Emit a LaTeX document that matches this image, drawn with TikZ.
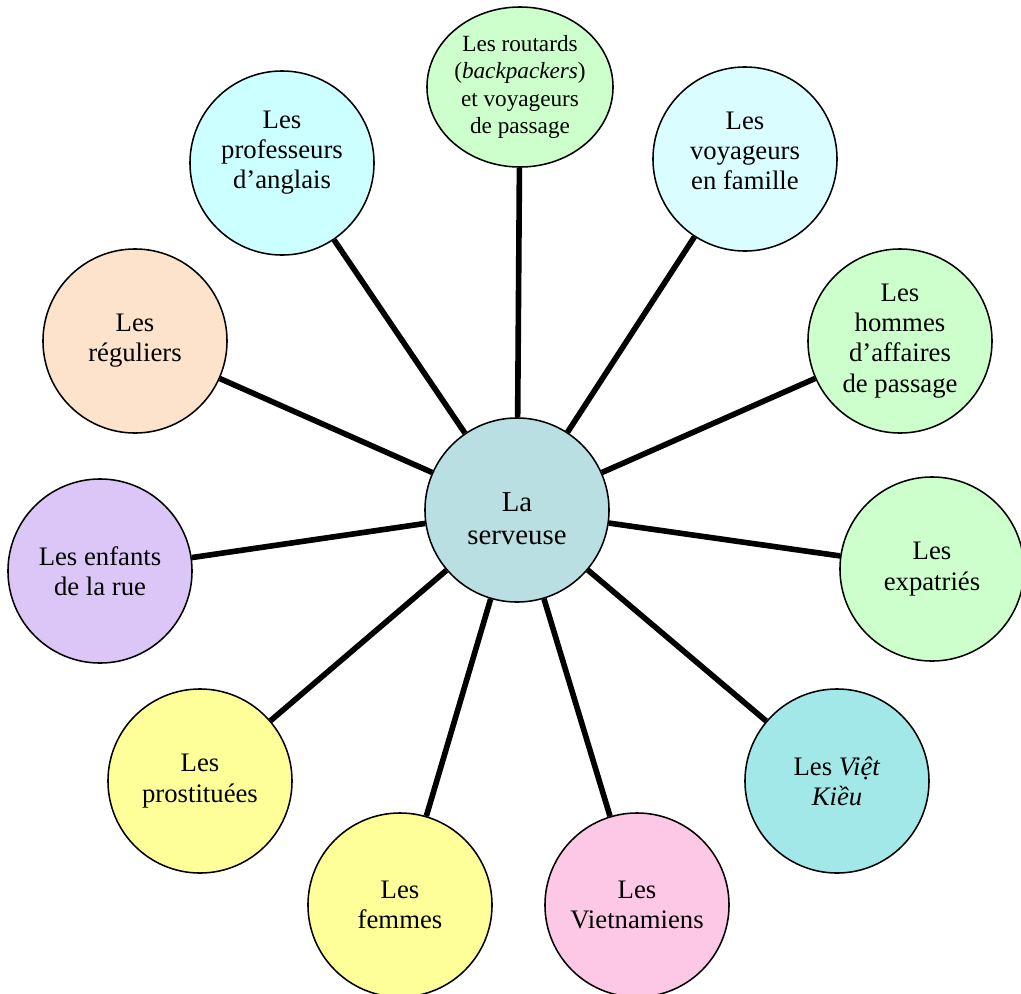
\documentclass[tikz,border=0pt]{standalone}
\usepackage{fontspec}
\setmainfont{Liberation Serif}
\usetikzlibrary{shapes.geometric}

\definecolor{centreblue}{HTML}{B9DFE2}
\definecolor{palegreen}{HTML}{CCFFCC}
\definecolor{palecyan}{HTML}{CCFFFF}
\definecolor{lightcyan}{HTML}{DAFDFF}
\definecolor{peach}{HTML}{FDE3CC}
\definecolor{lavender}{HTML}{DCC6F7}
\definecolor{paleyellow}{HTML}{FFFF99}
\definecolor{pink}{HTML}{FDC8E6}
\definecolor{turquoise}{HTML}{A2E8E8}

\begin{document}
\begin{tikzpicture}[x=0.025cm,y=-0.025cm]
\tikzstyle{group}=[circle, draw=black, line width=1.1pt, minimum size=4.6cm, inner sep=0pt, align=center, font=\fontsize{19}{21.5}\selectfont]
\tikzstyle{spoke}=[line width=4pt]
\useasboundingbox (0,0) rectangle (1021,994);

% Centre
\node[group, fill=centreblue, font=\fontsize{20.5}{23.5}\selectfont] (serveuse) at (517,510) {\mbox{}\\[2pt]La\\serveuse};

% Upper half
\node[group, ellipse, minimum width=4.65cm, minimum height=4cm, fill=palegreen, font=\fontsize{16.5}{19.4}\selectfont] (routards) at (520,87) {Les routards\\(\textit{backpackers})\\et voyageurs\\de passage};
\node[group, fill=palecyan] (professeurs) at (282,163) {Les\\professeurs\\d’anglais\\[-3pt]\mbox{}};
\node[group, fill=lightcyan] (famille) at (745,159) {Les\\voyageurs\\en famille\\[-10pt]\mbox{}};
\node[group, fill=peach] (reguliers) at (135,341) {Les\\réguliers};
\node[group, fill=palegreen] (affaires) at (900,341) {Les\\hommes\\d’affaires\\de passage};
\node[group, fill=lavender] (enfants) at (100,571) {Les enfants\\de la rue};
\node[group, fill=palegreen] (expatries) at (932,569) {Les\\expatriés};

% Lower half
\node[group, fill=paleyellow] (prostituees) at (200,781) {Les\\prostituées};
\node[group, fill=turquoise] (vietkieu) at (837,781) {Les \textit{Việt}\\\textit{Kiều}};
\node[group, fill=paleyellow] (femmes) at (400,905) {Les\\femmes};
\node[group, fill=pink] (vietnamiens) at (637,905) {Les\\Vietnamiens};

% Spokes
\foreach \n in {routards,professeurs,famille,reguliers,affaires,enfants,expatries,prostituees,vietkieu,femmes,vietnamiens}
  \draw[spoke] (serveuse) -- (\n);
\end{tikzpicture}
\end{document}
